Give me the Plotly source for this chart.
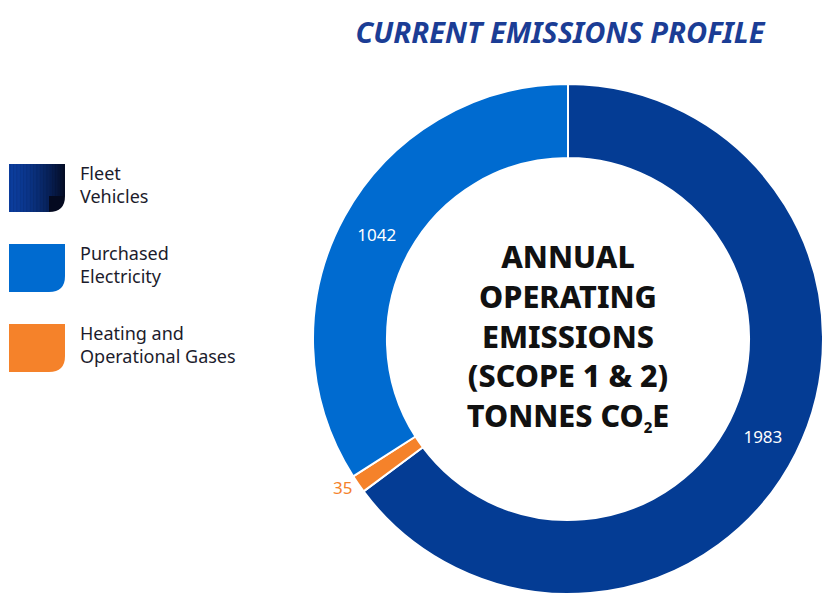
import plotly.graph_objects as go

# ---- data ----
slice_labels = ["Fleet Vehicles", "Heating and Operational Gases", "Purchased Electricity"]
slice_values = [1983, 35, 1042]
slice_colors = ["#043c94", "#f5822a", "#006bd0"]

legend_labels = ["Fleet<br>Vehicles", "Purchased<br>Electricity", "Heating and<br>Operational Gases"]
legend_colors = [("#0c3d9c", "#040a20"), ("#006bd0", "#006bd0"), ("#f5822a", "#f5822a")]

title_text = "CURRENT EMISSIONS PROFILE"
center_text = ("ANNUAL<br>OPERATING<br>EMISSIONS<br>(SCOPE 1 &amp; 2)<br>"
               "TONNES CO<sub><span style=\"font-size:15px\">2</span></sub>E")

# page has an 8px body margin; size the figure to fill the rest of the window
OFF = 8
W, H = 838 - OFF, 608 - OFF

def px(x):
    return (x - OFF) / W

def py(y):
    return 1 - (y - OFF) / H

def hex2rgb(h):
    h = h.lstrip("#")
    return tuple(int(h[i:i + 2], 16) for i in (0, 2, 4))

def mix(c0, c1, t):
    a, b = hex2rgb(c0), hex2rgb(c1)
    return "rgb({},{},{})".format(*[round(a[k] + (b[k] - a[k]) * t) for k in range(3)])

fig = go.Figure()
fig.add_trace(go.Pie(
    labels=slice_labels,
    values=slice_values,
    sort=False,
    direction="clockwise",
    rotation=0,
    hole=0.71,
    marker=dict(colors=slice_colors, line=dict(color="white", width=2)),
    texttemplate="%{value}",
    textposition=["inside", "outside", "inside"],
    insidetextorientation="horizontal",
    insidetextfont=dict(color="white", size=17, family="Noto Sans"),
    outsidetextfont=dict(color="#f5822a", size=17, family="Noto Sans"),
    domain=dict(x=[px(313), px(823)], y=[py(594), py(84)]),
    title=dict(text=center_text, position="middle center",
               font=dict(size=30.5, color="#111111", family="Noto Sans", weight=800)),
    showlegend=False,
    hoverinfo="label+value",
))

shapes = []
annotations = []
icon_tops = [164, 244, 324]
for i, (lab, (c0, c1)) in enumerate(zip(legend_labels, legend_colors)):
    x0, x1 = 9, 65
    y0 = icon_tops[i]
    y1 = y0 + 48
    r = 16
    path = (f"M {px(x0)},{py(y0)} L {px(x1)},{py(y0)} L {px(x1)},{py(y1 - r)} "
            f"Q {px(x1)},{py(y1)} {px(x1 - r)},{py(y1)} L {px(x0)},{py(y1)} Z")
    shapes.append(dict(type="path", xref="paper", yref="paper", path=path,
                       fillcolor=c1, line=dict(width=0)))
    if c0 != c1:
        n = 28
        span = (x1 - r) - x0
        for k in range(n):
            sx0 = x0 + span * k / n
            sx1 = x0 + span * (k + 1) / n + 0.4
            t = ((sx0 - x0) / (x1 - x0)) ** 1.6
            shapes.append(dict(type="rect", xref="paper", yref="paper",
                               x0=px(sx0), x1=px(min(sx1, x1 - r)), y0=py(y1), y1=py(y0),
                               fillcolor=mix(c0, c1, t), line=dict(width=0)))
        # top-right part above the rounded corner
        m = 10
        for k in range(m):
            sx0 = (x1 - r) + r * k / m
            sx1 = (x1 - r) + r * (k + 1) / m + 0.4
            t = ((sx0 - x0) / (x1 - x0)) ** 1.6
            shapes.append(dict(type="rect", xref="paper", yref="paper",
                               x0=px(sx0), x1=px(min(sx1, x1)), y0=py(y1 - r), y1=py(y0),
                               fillcolor=mix(c0, c1, t), line=dict(width=0)))
    annotations.append(dict(x=px(78), y=py(y0 + 20), xref="paper", yref="paper",
                            text=lab, showarrow=False, xanchor="left", yanchor="middle",
                            align="left",
                            font=dict(size=18, color="#1c1c2c", family="Noto Sans")))

fig.update_layout(
    width=W, height=H,
    margin=dict(l=0, r=0, t=0, b=0),
    paper_bgcolor="white",
    plot_bgcolor="white",
    title=dict(text=f"<i><b>{title_text}</b></i>", x=px(560), xanchor="center",
               y=py(33), yanchor="middle", yref="container",
               font=dict(size=29, color="#1b3d95", family="Noto Sans")),
    shapes=shapes,
    annotations=annotations,
)

fig.write_html("out.html")
